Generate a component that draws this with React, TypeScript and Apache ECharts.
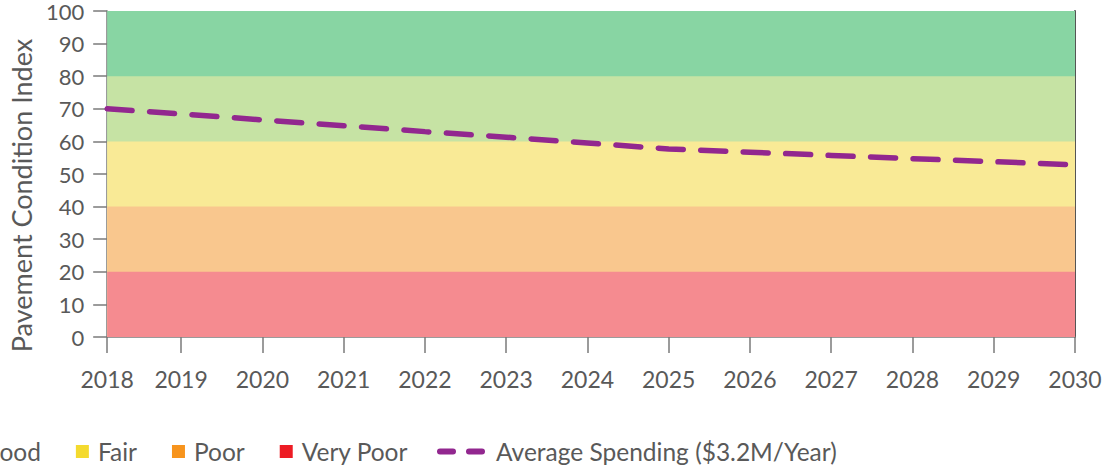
import React, { useEffect, useRef } from 'react';
import * as echarts from 'echarts';

// ---- Data ----
const yearLabels = ['2018', '2019', '2020', '2021', '2022', '2023', '2024', '2025', '2026', '2027', '2028', '2029', '2030'];
// positions of the yearly points on the time axis (series begins slightly after 1 Jan 2018)
const yearPositions = [2018.09, 2019, 2020, 2021, 2022, 2023, 2024, 2025, 2026, 2027, 2028, 2029, 2030];
const averageSpendingPCI = [70, 68.4, 66.6, 64.8, 63.0, 61.3, 59.5, 57.7, 56.7, 55.7, 54.7, 53.8, 52.8];
const averageSpendingName = 'Average Spending ($3.2M/Year)';

// condition bands, bottom to top
const bandNames = ['Very Poor', 'Poor', 'Fair', 'Good', 'Very Good'];
const bandHeights = [20, 20, 20, 20, 20];
const legendOrder = ['Very Good', 'Good', 'Fair', 'Poor', 'Very Poor'];

const yMin = 0;
const yMax = 100;
const yInterval = 10;

// ---- Styles ----
const legendColors = ['#ed1c24', '#f7941d', '#f4da2e', '#8dc63f', '#11ab47'];
const bandFills = ['#f58b90', '#f9c78e', '#f9ea96', '#c6e3a4', '#88d5a3'];
const lineColor = '#92278f';
const textColor = '#595959';
const axisColor = '#7a7a7a';
const fontFamily = 'Lato, "Noto Sans", sans-serif';

export default function App() {
  const ref = useRef<HTMLDivElement>(null);

  useEffect(() => {
    if (!ref.current) return;
    const chart = echarts.init(ref.current, undefined, { renderer: 'svg' });
    const xStart = yearPositions[0];
    const xEnd = yearPositions[yearPositions.length - 1];

    // upper bound of each band (cumulative heights)
    const bandTops: number[] = [];
    bandHeights.reduce((acc, h) => {
      const top = acc + h;
      bandTops.push(top);
      return top;
    }, yMin);

    // each band area is filled from the axis floor up to its top; drawn from the
    // highest band down so that the lower bands cover the lower part of the higher ones
    const bandSeries = bandNames
      .map((name, i) => ({
        type: 'line',
        name,
        data: [[xStart, bandTops[i]], [xEnd, bandTops[i]]],
        symbol: 'none',
        silent: true,
        lineStyle: { width: 0 },
        itemStyle: { color: legendColors[i] },
        areaStyle: { color: bandFills[i], opacity: 1, origin: 'start' },
        z: 1,
      }))
      .reverse();

    const labelFor = (v: number) => {
      let best = 0;
      yearPositions.forEach((p, i) => {
        if (Math.abs(p - v) < Math.abs(yearPositions[best] - v)) best = i;
      });
      return yearLabels[best];
    };

    chart.setOption({
      animation: false,
      textStyle: { fontFamily },
      grid: { left: 106, right: 33, top: 11, bottom: 128, containLabel: false },
      xAxis: {
        type: 'value',
        min: xStart,
        max: xEnd,
        splitLine: { show: false },
        axisLine: { show: true, lineStyle: { color: axisColor, width: 1.5 } },
        axisTick: { show: true, length: 16, customValues: yearPositions, lineStyle: { color: axisColor, width: 1.5 } },
        axisLabel: {
          customValues: yearPositions,
          formatter: (v: number) => labelFor(v),
          fontSize: 23,
          color: textColor,
          margin: 30,
          fontFamily,
        },
      },
      yAxis: [
        {
          type: 'value',
          min: yMin,
          max: yMax,
          interval: yInterval,
          name: 'Pavement Condition Index',
          nameLocation: 'middle',
          nameGap: 72,
          nameTextStyle: { fontSize: 27, color: textColor, fontFamily, padding: [0, 43, 0, 0] },
          splitLine: { show: false },
          axisLine: { show: true, lineStyle: { color: axisColor, width: 1.5 } },
          axisTick: { show: true, length: 14, lineStyle: { color: axisColor, width: 1.5 } },
          axisLabel: { fontSize: 22, color: textColor, margin: 23, fontFamily },
        },
        {
          type: 'value',
          min: yMin,
          max: yMax,
          interval: yInterval,
          position: 'right',
          splitLine: { show: false },
          axisLine: { show: true, lineStyle: { color: '#555555', width: 2 } },
          axisTick: { show: false },
          axisLabel: { show: false },
        },
      ],
      legend: [
        {
          data: legendOrder,
          right: 700,
          width: 1000,
          top: 439,
          padding: 0,
          icon: 'rect',
          itemWidth: 13,
          itemHeight: 13,
          itemGap: 35,
          selectedMode: false,
          textStyle: { fontSize: 24.5, color: textColor, fontFamily, padding: [0, 0, 0, 4] },
        },
        {
          data: [
            {
              name: averageSpendingName,
              icon: 'path://M3,0H16A3,3,0,0,1,16,6H3A3,3,0,0,1,3,0ZM32,0H45A3,3,0,0,1,45,6H32A3,3,0,0,1,32,0Z',
              itemStyle: { color: lineColor },
            },
          ],
          left: 437,
          top: 439,
          padding: 0,
          itemWidth: 48,
          itemHeight: 6,
          selectedMode: false,
          textStyle: { fontSize: 24.5, color: textColor, fontFamily, padding: [0, 0, 0, 6] },
        },
      ],
      series: [
        ...bandSeries,
        {
          type: 'line',
          name: averageSpendingName,
          data: yearPositions.map((x, i) => [x, averageSpendingPCI[i]]),
          symbol: 'none',
          z: 5,
          itemStyle: { color: lineColor },
          lineStyle: { color: lineColor, width: 5.5, type: [25, 17.5], cap: 'round' },
        },
      ],
    });

    return () => chart.dispose();
  }, []);

  return (
    <div
      ref={ref}
      style={{ position: 'fixed', left: 0, top: 0, width: 1108, height: 465, background: '#ffffff' }}
    />
  );
}
